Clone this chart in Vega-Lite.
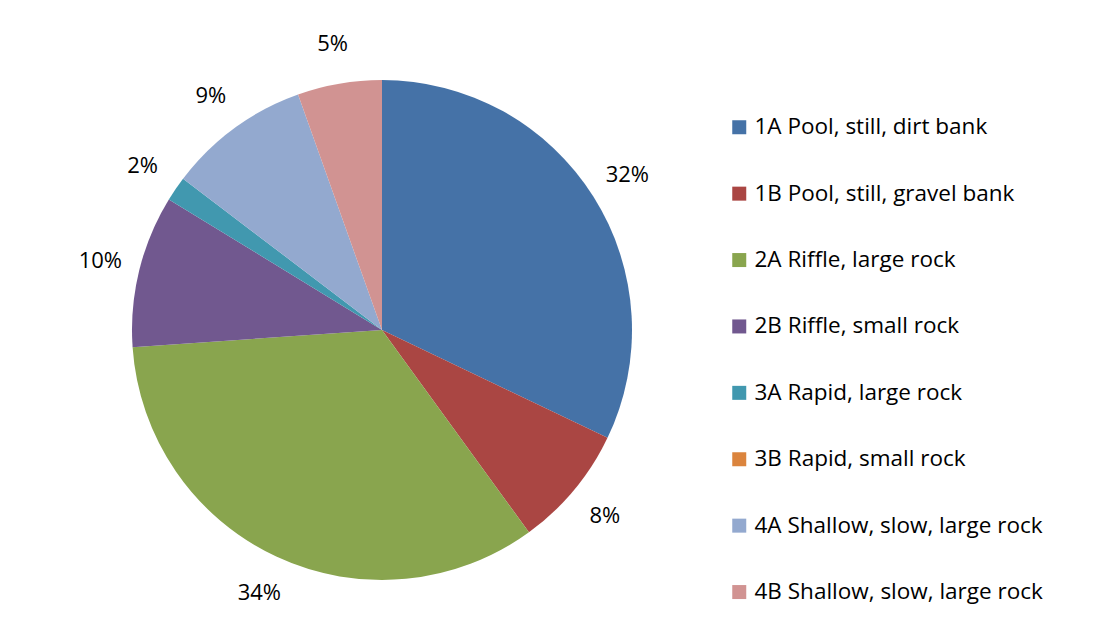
{
  "$schema": "https://vega.github.io/schema/vega-lite/v6.json",
  "autosize": "none",
  "width": 500,
  "height": 500,
  "padding": {"left": 132, "top": 80, "right": 472, "bottom": 62},
  "background": "white",
  "config": {"view": {"stroke": null}, "font": "Open Sans"},
  "data": {
    "values": [
      {"idx": 1, "zone": "1A Pool, still, dirt bank", "share": 32.1, "label": "32%"},
      {"idx": 2, "zone": "1B Pool, still, gravel bank", "share": 7.9, "label": "8%"},
      {"idx": 3, "zone": "2A Riffle, large rock", "share": 33.9, "label": "34%"},
      {"idx": 4, "zone": "2B Riffle, small rock", "share": 9.85, "label": "10%"},
      {"idx": 5, "zone": "3A Rapid, large rock", "share": 1.6, "label": "2%"},
      {"idx": 6, "zone": "3B Rapid, small rock", "share": 0, "label": ""},
      {"idx": 7, "zone": "4A Shallow, slow, large rock", "share": 9.2, "label": "9%"},
      {"idx": 8, "zone": "4B Shallow, slow, large rock", "share": 5.45, "label": "5%"}
    ]
  },
  "encoding": {
    "theta": {"field": "share", "type": "quantitative", "stack": true},
    "order": {"field": "idx", "type": "quantitative"}
  },
  "layer": [
    {
      "mark": {"type": "arc", "stroke": null},
      "encoding": {
        "color": {
          "field": "zone",
          "type": "nominal",
          "sort": null,
          "scale": {
            "domain": [
              "1A Pool, still, dirt bank",
              "1B Pool, still, gravel bank",
              "2A Riffle, large rock",
              "2B Riffle, small rock",
              "3A Rapid, large rock",
              "3B Rapid, small rock",
              "4A Shallow, slow, large rock",
              "4B Shallow, slow, large rock"
            ],
            "range": ["#4572A7", "#AA4643", "#89A54E", "#71588F", "#4198AF", "#DB843D", "#93A9CF", "#D19392"]
          },
          "legend": {
            "title": null,
            "orient": "none",
            "legendX": 596,
            "legendY": 36,
            "symbolType": "square",
            "symbolSize": 196,
            "symbolStrokeWidth": 0,
            "symbolOpacity": 1,
            "labelFontSize": 22.5,
            "labelFont": "Open Sans",
            "labelColor": "#000000",
            "labelLimit": 400,
            "rowPadding": 43.4,
            "labelOffset": 4,
            "padding": 0
          }
        }
      }
    },
    {
      "mark": {"type": "text", "radius": 290, "fontSize": 22, "font": "Open Sans", "color": "#000000"},
      "encoding": {
        "text": {"field": "label", "type": "nominal"}
      }
    }
  ]
}
